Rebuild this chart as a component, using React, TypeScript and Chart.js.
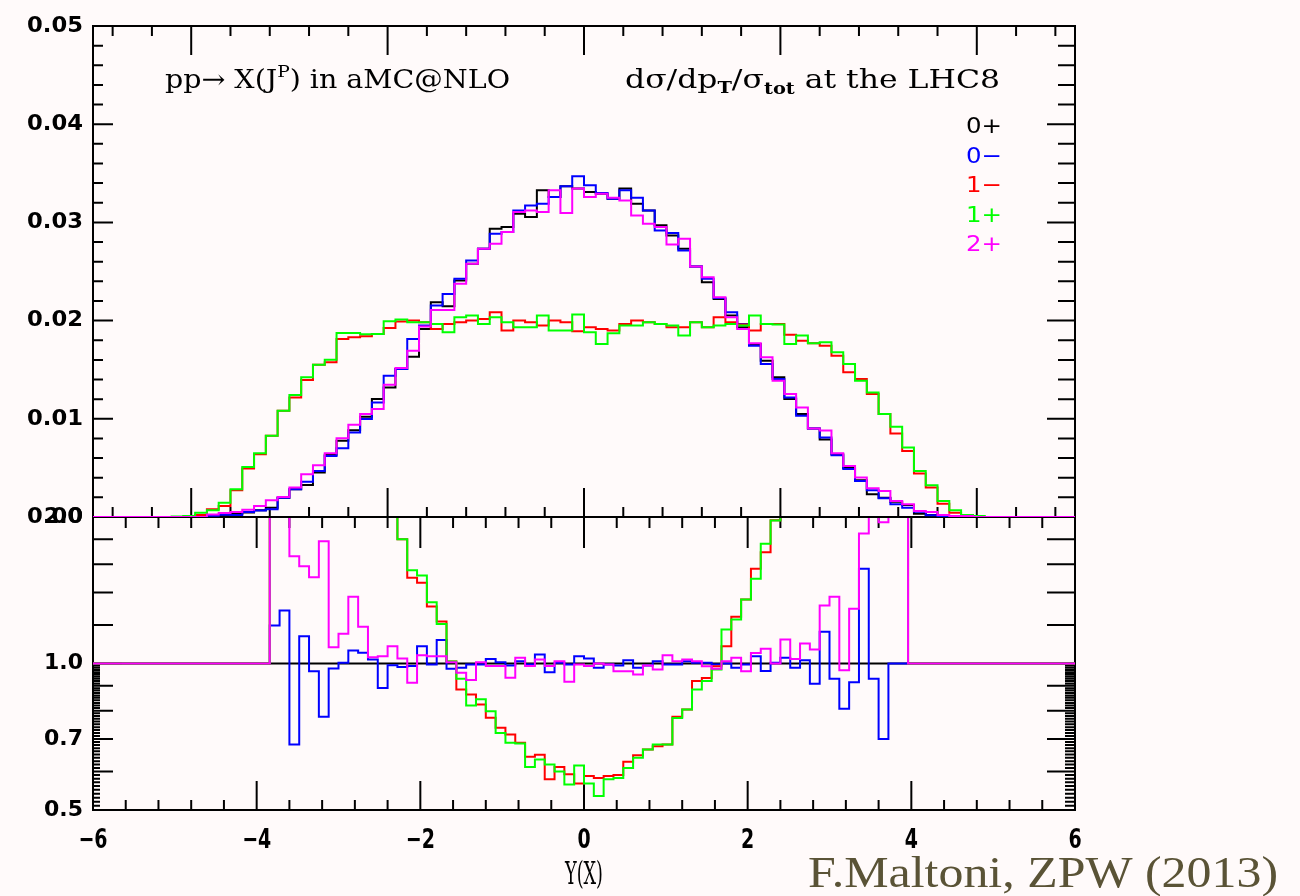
import React, { useEffect, useRef } from "react";
import { Chart, registerables } from "chart.js";

Chart.register(...registerables);

// Rapidity binning shared by every histogram: bins of width 0.12 from -4.2 to 4.2
const BIN_WIDTH = 0.12;
const FIRST_EDGE = -4.2;

const SERIES_NAMES = ["0+", "0−", "1−", "1+", "2+"];
const SERIES_COLORS = ["#000000", "#0000ff", "#ff0000", "#00ff00", "#ff00ff"];

// dσ/dY / σtot per bin, one list per spin-parity hypothesis
const dist0p = [
  0, 0, 0, 0.0001, 0.00018, 0.0003, 0.00045, 0.00068, 0.00095, 0.00197,
  0.00282, 0.00327, 0.00452, 0.00633, 0.00776, 0.00884, 0.0102, 0.01201, 0.0132, 0.01507,
  0.01633, 0.01915, 0.02187, 0.02146, 0.02408, 0.02578, 0.02731, 0.02935, 0.02952, 0.03088,
  0.03054, 0.03327, 0.03259, 0.03367, 0.03344, 0.0331, 0.03293, 0.03242, 0.03344, 0.0319,
  0.03122, 0.0297, 0.02867, 0.02731, 0.02551, 0.02391, 0.02221, 0.02051, 0.01932, 0.01762,
  0.01592, 0.01422, 0.01201, 0.01048, 0.009, 0.0079, 0.0064, 0.005, 0.00374, 0.00231,
  0.00197, 0.00156, 0.00122, 0.00034, 0.0002, 0.0001, 0.00005, 0.00003, 0, 0,
];

const dist0m = [
  0, 0, 0, 0.00012, 0.00023, 0.0002, 0.0005, 0.00065, 0.00078, 0.00197,
  0.00282, 0.0036, 0.00469, 0.0062, 0.00701, 0.0086, 0.00997, 0.01167, 0.01439, 0.01507,
  0.01813, 0.01949, 0.02153, 0.02272, 0.02425, 0.02612, 0.02731, 0.02884, 0.02901, 0.03122,
  0.03173, 0.0319, 0.03259, 0.03367, 0.03469, 0.03378, 0.03299, 0.03242, 0.03327, 0.03252,
  0.03122, 0.02918, 0.02891, 0.02714, 0.02551, 0.02425, 0.02231, 0.02085, 0.01966, 0.01745,
  0.01558, 0.01405, 0.01218, 0.01031, 0.009, 0.0081, 0.0063, 0.0049, 0.00367, 0.00272,
  0.0019, 0.0013, 0.00095, 0.00053, 0.00019, 0.00007, 0, 0, 0, 0,
];

const dist1m = [
  0, 0.00005, 0.0002, 0.00078, 0.00112, 0.00272, 0.00493, 0.0064, 0.00827, 0.01082,
  0.01218, 0.01395, 0.01551, 0.01575, 0.01813, 0.0183, 0.0184, 0.01864, 0.01925, 0.0199,
  0.02, 0.01983, 0.01915, 0.01966, 0.01983, 0.02, 0.02017, 0.02085, 0.01898, 0.02,
  0.01983, 0.01949, 0.02, 0.01983, 0.01891, 0.01932, 0.01915, 0.01898, 0.01966, 0.02,
  0.01983, 0.01966, 0.01932, 0.01932, 0.01983, 0.01932, 0.02034, 0.01983, 0.0196, 0.01898,
  0.01966, 0.01966, 0.01857, 0.01796, 0.01769, 0.01745, 0.01643, 0.01473, 0.01405, 0.01252,
  0.01048, 0.0085, 0.00673, 0.00442, 0.003, 0.00136, 0.00044, 0.0002, 0.00005, 0,
];

const dist1p = [
  0.00005, 0.0001, 0.00044, 0.00068, 0.00146, 0.00282, 0.0051, 0.0065, 0.00827, 0.01082,
  0.01242, 0.01422, 0.01551, 0.01602, 0.01874, 0.01874, 0.0186, 0.01864, 0.01993, 0.0201,
  0.01983, 0.01983, 0.01966, 0.01881, 0.02034, 0.02051, 0.01966, 0.02034, 0.01983, 0.01932,
  0.01932, 0.02051, 0.01898, 0.01898, 0.02061, 0.01881, 0.01762, 0.01871, 0.01949, 0.01949,
  0.01983, 0.01966, 0.01949, 0.01847, 0.01983, 0.01932, 0.01949, 0.01966, 0.01949, 0.02051,
  0.01966, 0.0196, 0.01762, 0.01847, 0.01769, 0.01779, 0.01677, 0.01558, 0.01388, 0.01269,
  0.01048, 0.00918, 0.00707, 0.00469, 0.00323, 0.00163, 0.00068, 0.0002, 0.0001, 0,
];

const dist2p = [
  0, 0, 0, 0.00025, 0.0004, 0.0005, 0.00075, 0.00112, 0.0017, 0.00204,
  0.003, 0.00435, 0.00527, 0.0065, 0.00803, 0.00939, 0.01048, 0.01099, 0.01347, 0.01517,
  0.01694, 0.01939, 0.02109, 0.02109, 0.02374, 0.02578, 0.02731, 0.02782, 0.02901, 0.03105,
  0.03122, 0.03105, 0.03327, 0.03095, 0.03344, 0.03259, 0.03293, 0.03252, 0.03224, 0.03071,
  0.02986, 0.02952, 0.02776, 0.02833, 0.02551, 0.02442, 0.02238, 0.02034, 0.01915, 0.01769,
  0.01626, 0.01388, 0.01252, 0.01116, 0.009, 0.0088, 0.0065, 0.0052, 0.00401, 0.00293,
  0.00265, 0.00163, 0.0013, 0.00061, 0.0005, 0.0002, 0.0001, 0.0001, 0, 0,
];

// Ratios to the 0+ hypothesis (1 where the reference bin is empty)
const ratio0m = [
  1, 1, 1, 1.197, 1.285, 0.682, 1.138, 0.964, 0.777, 0.977,
  1.003, 1.063, 1.052, 1.019, 0.891, 0.992, 0.983, 0.988, 1.085, 0.995,
  1.117, 0.975, 0.98, 0.995, 0.995, 1.022, 1.006, 0.99, 1.011, 0.995,
  1.043, 0.96, 1.003, 0.995, 1.035, 1.024, 0.98, 0.995, 0.99, 1.016,
  0.98, 0.99, 1.011, 0.995, 0.995, 1.011, 1.003, 1.003, 0.995, 1.0,
  0.98, 0.995, 1.035, 0.965, 1.003, 1.027, 0.98, 1.016, 0.909, 1.162,
  0.93, 0.807, 0.915, 1.565, 0.93, 0.7, 1, 1, 1, 1,
];

const ratio1m = [
  1, 1, 1, 7.8, 6.2, 9.1, 11, 9.4, 8.7, 5.5,
  4.3, 4.3, 3.4, 2.5, 2.3, 2.1, 1.8, 1.5, 1.465, 1.31,
  1.22, 1.01, 0.884, 0.864, 0.824, 0.774, 0.738, 0.715, 0.687, 0.643,
  0.649, 0.578, 0.613, 0.592, 0.567, 0.587, 0.582, 0.587, 0.59, 0.628,
  0.648, 0.666, 0.676, 0.682, 0.777, 0.804, 0.92, 0.934, 0.987, 1.085,
  1.247, 1.354, 1.565, 1.693, 1.97, 2.2, 2.6, 2.9, 3.8, 5.4,
  5.3, 5.4, 5.5, 13, 15, 14, 9, 7, 1, 1,
];

const ratio1p = [
  1, 1, 1, 6.8, 8.1, 9.4, 11.3, 9.6, 8.7, 5.5,
  4.4, 4.3, 3.4, 2.5, 2.4, 2.1, 1.8, 1.555, 1.516, 1.336,
  1.206, 1.01, 0.93, 0.82, 0.844, 0.798, 0.72, 0.687, 0.685, 0.613,
  0.635, 0.62, 0.6, 0.564, 0.617, 0.567, 0.534, 0.578, 0.582, 0.61,
  0.64, 0.666, 0.682, 0.682, 0.773, 0.804, 0.884, 0.92, 0.972, 1.175,
  1.231, 1.354, 1.493, 1.762, 1.967, 2.25, 2.6, 3.1, 3.7, 5.5,
  5.3, 5.9, 5.8, 13.8, 16, 16, 14, 7, 1, 1,
];

const ratio2p = [
  1, 1, 1, 2.5, 2.4, 1.662, 1.585, 1.504, 1.784, 1.08,
  1.151, 1.371, 1.19, 1.03, 1.035, 1.085, 1.024, 0.913, 1.04, 1.035,
  1.035, 1.006, 0.957, 0.925, 1.006, 0.988, 0.988, 0.935, 1.027, 0.988,
  1.019, 0.988, 1.011, 0.917, 0.995, 0.988, 1.0, 0.995, 0.964, 0.964,
  0.949, 0.991, 0.972, 1.04, 1.011, 1.019, 1.011, 0.987, 0.975, 1.011,
  1.027, 0.964, 1.051, 1.072, 1.0, 1.12, 1.022, 1.099, 1.068, 1.316,
  1.371, 0.969, 1.295, 1.849, 2.5, 1.952, 2.5, 2.5, 1, 1,
];

const TOP_Y_TICK_LABELS = ["0.00", "0.01", "0.02", "0.03", "0.04", "0.05"];
const RATIO_Y_TICK_LABELS = ["0.5", "0.7", "1.0", "2.0"];
const X_TICK_LABELS = [-6, -4, -2, 0, 2, 4, 6];

const TITLE_LEFT = "pp→ X(J";
const TITLE_SUP = "P";
const TITLE_LEFT_END = ") in aMC@NLO";
const CREDIT = "F.Maltoni, ZPW (2013)";

type Pt = { x: number; y: number };

function histPoints(values: number[], outside: number): Pt[] {
  const pts: Pt[] = [
    { x: -6, y: outside },
    { x: FIRST_EDGE, y: outside },
  ];
  values.forEach((v, i) => {
    const lo = FIRST_EDGE + i * BIN_WIDTH;
    pts.push({ x: lo, y: v }, { x: lo + BIN_WIDTH, y: v });
  });
  const last = FIRST_EDGE + values.length * BIN_WIDTH;
  pts.push({ x: last, y: outside }, { x: 6, y: outside });
  return pts;
}

function drawText(
  ctx: CanvasRenderingContext2D,
  text: string,
  x: number,
  y: number,
  font: string,
  color: string,
  align: "left" | "center" | "right",
  sx = 1,
  baseline: CanvasTextBaseline = "alphabetic"
) {
  ctx.save();
  ctx.font = font;
  ctx.fillStyle = color;
  ctx.textBaseline = baseline;
  ctx.textAlign = "left";
  const w = ctx.measureText(text).width * sx;
  const x0 = align === "left" ? x : align === "right" ? x - w : x - w / 2;
  ctx.translate(x0, y);
  ctx.scale(sx, 1);
  ctx.fillText(text, 0, 0);
  ctx.restore();
}

function drawFit(
  ctx: CanvasRenderingContext2D,
  text: string,
  x: number,
  y: number,
  font: string,
  color: string,
  align: "left" | "center" | "right",
  width: number,
  baseline: CanvasTextBaseline = "alphabetic"
) {
  ctx.save();
  ctx.font = font;
  const m = ctx.measureText(text).width;
  ctx.restore();
  drawText(ctx, text, x, y, font, color, align, width / m, baseline);
}

type Seg = { t: string; f: string; dy: number };

function drawRich(ctx: CanvasRenderingContext2D, segs: Seg[], x: number, base: number, width: number, color: string) {
  ctx.save();
  let total = 0;
  const ws = segs.map((s) => {
    ctx.font = s.f;
    const w = ctx.measureText(s.t).width;
    total += w;
    return w;
  });
  ctx.fillStyle = color;
  ctx.textBaseline = "alphabetic";
  ctx.textAlign = "left";
  ctx.translate(x, base);
  ctx.scale(width / total, 1);
  let cx = 0;
  segs.forEach((s, i) => {
    ctx.font = s.f;
    ctx.fillText(s.t, cx, s.dy);
    cx += ws[i];
  });
  ctx.restore();
}

const LABEL_FONT = "bold 22px 'DejaVu Sans'";
const TITLE_FONT = "26px 'DejaVu Serif Condensed', 'DejaVu Serif', serif";
const TITLE_SMALL = "17px 'DejaVu Serif Condensed', 'DejaVu Serif', serif";
const TITLE_SMALL_BOLD = "bold 16px 'DejaVu Serif Condensed', 'DejaVu Serif', serif";

// Frame and inward ticks of the distribution panel
const topFramePlugin = {
  id: "topFrame",
  beforeDatasetsDraw(chart: any) {
    const { ctx, chartArea: a, scales } = chart;
    const x = scales.x;
    const y = scales.y;
    ctx.save();
    ctx.strokeStyle = "#000";
    ctx.lineWidth = 2;
    ctx.strokeRect(a.left, a.top, a.right - a.left, a.bottom - a.top);
    ctx.beginPath();
    for (let i = -12; i <= 12; i++) {
      const v = i * 0.4;
      const px = x.getPixelForValue(v);
      const major = i % 5 === 0;
      const len = major ? 29 : 10;
      ctx.moveTo(px, a.top);
      ctx.lineTo(px, a.top + len);
      ctx.moveTo(px, a.bottom);
      ctx.lineTo(px, a.bottom - len);
    }
    for (let j = 1; j < 25; j++) {
      const py = y.getPixelForValue(j * 0.002);
      const major = j % 5 === 0;
      ctx.moveTo(a.left, py);
      ctx.lineTo(a.left + (major ? 20 : 10), py);
      ctx.moveTo(a.right, py);
      ctx.lineTo(a.right - (major ? 28 : 17), py);
    }
    ctx.stroke();
    ctx.restore();
  },
  afterDraw(chart: any) {
    const { ctx, chartArea: a, scales } = chart;
    const y = scales.y;
    TOP_Y_TICK_LABELS.forEach((lab) => {
      drawText(ctx, lab, a.left - 10, y.getPixelForValue(parseFloat(lab)), LABEL_FONT, "#000", "right", 1.03, "middle");
    });
    drawRich(
      ctx,
      [
        { t: TITLE_LEFT, f: TITLE_FONT, dy: 0 },
        { t: TITLE_SUP, f: TITLE_SMALL, dy: -11 },
        { t: TITLE_LEFT_END, f: TITLE_FONT, dy: 0 },
      ],
      165,
      88,
      345,
      "#000"
    );
    drawRich(
      ctx,
      [
        { t: "dσ/dp", f: TITLE_FONT, dy: 0 },
        { t: "T", f: TITLE_SMALL_BOLD, dy: 5 },
        { t: "/σ", f: TITLE_FONT, dy: 0 },
        { t: "tot", f: TITLE_SMALL_BOLD, dy: 6 },
        { t: " at the LHC8", f: TITLE_FONT, dy: 0 },
      ],
      625,
      88,
      375,
      "#000"
    );
    SERIES_NAMES.forEach((name, i) => {
      drawFit(ctx, name, 1002, 133 + i * 29.5, "22px 'DejaVu Sans'", SERIES_COLORS[i], "right", 36);
    });
  },
};

// Frame, log-scale ticks and labels of the ratio panel
const ratioFramePlugin = {
  id: "ratioFrame",
  beforeDatasetsDraw(chart: any) {
    const { ctx, chartArea: a, scales } = chart;
    const x = scales.x;
    const y = scales.y;
    ctx.save();
    ctx.strokeStyle = "#000";
    ctx.lineWidth = 2;
    ctx.strokeRect(a.left, a.top, a.right - a.left, a.bottom - a.top);
    ctx.beginPath();
    for (let i = -15; i <= 15; i++) {
      const px = x.getPixelForValue(i * 0.4);
      const major = i % 5 === 0;
      ctx.moveTo(px, a.top);
      ctx.lineTo(px, a.top + (major ? 31 : 11));
      ctx.moveTo(px, a.bottom);
      ctx.lineTo(px, a.bottom - (major ? 29 : 10));
    }
    const tick = (v: number, l: number, r: number) => {
      const py = y.getPixelForValue(v);
      ctx.moveTo(a.left, py);
      ctx.lineTo(a.left + l, py);
      ctx.moveTo(a.right, py);
      ctx.lineTo(a.right - r, py);
    };
    for (let i = 51; i < 100; i++) {
      const medium = i % 10 === 0;
      tick(i / 100, medium ? 20 : 7, medium ? 28 : 10);
    }
    [1.2, 1.4, 1.6, 1.8].forEach((v) => tick(v, 20, 28));
    tick(1.0, 29, 35);
    ctx.stroke();
    ctx.restore();
  },
  afterDraw(chart: any) {
    const { ctx, chartArea: a, scales } = chart;
    const x = scales.x;
    const y = scales.y;
    RATIO_Y_TICK_LABELS.forEach((lab) => {
      drawText(ctx, lab, a.left - 10, y.getPixelForValue(parseFloat(lab)), LABEL_FONT, "#000", "right", 1.0, "middle");
    });
    X_TICK_LABELS.forEach((v) => {
      const txt = v < 0 ? "−" + Math.abs(v) : String(v);
      drawText(ctx, txt, x.getPixelForValue(v), a.bottom + 38, "bold 27px 'DejaVu Sans Condensed', 'DejaVu Sans'", "#000", "center", 0.78);
    });
    drawFit(ctx, "Y(X)", x.getPixelForValue(0), 884, "31px 'DejaVu Serif Condensed', 'DejaVu Serif'", "#000", "center", 38);
    drawFit(ctx, CREDIT, 808, 887, "44px 'Liberation Serif', serif", "#5a5336", "left", 470);
  },
};

export default function App() {
  const topRef = useRef<HTMLCanvasElement>(null);
  const ratioRef = useRef<HTMLCanvasElement>(null);

  useEffect(() => {
    const dists = [dist0p, dist0m, dist1m, dist1p, dist2p];
    const ratios = [null, ratio0m, ratio1m, ratio1p, ratio2p];

    const common = {
      animation: false as const,
      responsive: false,
      maintainAspectRatio: false,
      devicePixelRatio: 1,
      events: [] as any[],
      plugins: { legend: { display: false }, tooltip: { enabled: false } },
      elements: { point: { radius: 0 }, line: { tension: 0 } },
    };

    const topChart = new Chart(topRef.current!, {
      type: "line",
      data: {
        datasets: dists.map((vals, i) => ({
          label: SERIES_NAMES[i],
          data: histPoints(vals, 0),
          borderColor: SERIES_COLORS[i],
          borderWidth: 2,
          pointRadius: 0,
          fill: false,
          order: 5 - i,
        })),
      },
      options: {
        ...common,
        layout: { padding: { left: 93, right: 225, top: 26, bottom: 379 } },
        scales: {
          x: { type: "linear", min: -5, max: 5, display: false },
          y: { type: "linear", min: 0, max: 0.05, display: false },
        },
      },
      plugins: [topFramePlugin],
    } as any);

    const ratioChart = new Chart(ratioRef.current!, {
      type: "line",
      data: {
        datasets: ratios.map((vals, i) => ({
          label: SERIES_NAMES[i],
          data: vals
            ? histPoints(vals, 1)
            : [
                { x: -6, y: 1 },
                { x: 6, y: 1 },
              ],
          borderColor: SERIES_COLORS[i],
          borderWidth: 2,
          pointRadius: 0,
          fill: false,
          order: 5 - i,
        })),
      },
      options: {
        ...common,
        layout: { padding: { left: 93, right: 225, top: 517, bottom: 86 } },
        scales: {
          x: { type: "linear", min: -6, max: 6, display: false },
          y: { type: "logarithmic", min: 0.5, max: 2, display: false },
        },
      },
      plugins: [ratioFramePlugin],
    } as any);

    return () => {
      topChart.destroy();
      ratioChart.destroy();
    };
  }, []);

  const canvasStyle: React.CSSProperties = { position: "absolute", left: 0, top: 0, width: 1300, height: 896 };

  return (
    <div
      style={{
        position: "absolute",
        left: 0,
        top: 0,
        width: 1300,
        height: 896,
        background: "#fffafa",
        overflow: "hidden",
      }}
    >
      <canvas ref={ratioRef} width={1300} height={896} style={canvasStyle} />
      <canvas ref={topRef} width={1300} height={896} style={canvasStyle} />
    </div>
  );
}
